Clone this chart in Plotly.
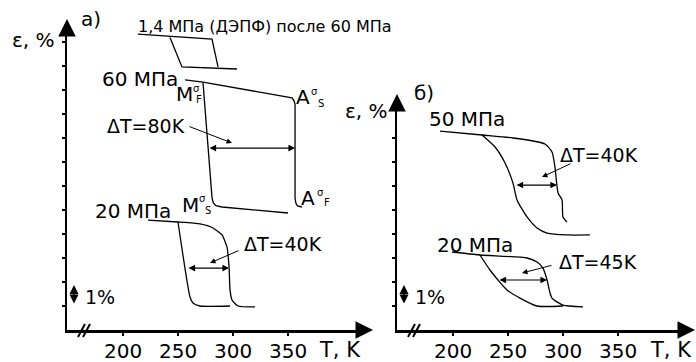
import plotly.graph_objects as go

W, H = 696, 362
FONT = "DejaVu Sans"

# ---------------- data (T in K, strain in %) ----------------
# panel a
a14_heat_T = [213.6, 280.9, 286.4]
a14_heat_e = [12.33, 12.125, 10.96]
a14_cool_T = [242.7, 253.6, 303.6]
a14_cool_e = [12.19, 10.96, 10.875]

a60_heat_T = [256.4, 272.7, 353.6, 355.5, 356.4, 356.4, 357.2, 358.6, 362.7]
a60_heat_e = [10.42, 10.33, 9.67, 9.55, 9.4, 5.5, 5.28, 5.17, 5.125]
a60_cool_T = [272.7, 277.3, 280.9, 282.0, 284.5, 290.0, 350.0]
a60_cool_e = [10.33, 7.58, 5.54, 5.3, 5.18, 5.125, 4.875]

a20_heat_T = [222.7, 250, 270, 281.8, 290, 294.5, 296.4, 297.3, 299.1, 304.5, 320]
a20_heat_e = [4.58, 4.5, 4.42, 4.25, 3.96, 3.46, 2.625, 1.67, 1.25, 1.0, 0.96]
a20_cool_T = [250, 260.9, 263.6, 270, 297.3]
a20_cool_e = [4.5, 1.375, 1.125, 1.0, 1.0]

# panel b
b50_heat_T = [188.2, 226.4, 254.5, 272.7, 283.6, 290, 292.7, 295.5, 299.1, 300, 303.6]
b50_heat_e = [8.29, 8.125, 8.0, 7.875, 7.75, 7.42, 6.79, 5.71, 5.42, 4.71, 4.5]
b50_cool_T = [226.4, 238.2, 247.3, 254.5, 258.2, 267.3, 276.4, 285.5, 303.6, 324.5]
b50_cool_e = [8.125, 7.625, 6.96, 6.125, 5.42, 4.71, 4.25, 4.04, 3.96, 3.96]

b20_heat_T = [199.1, 224.5, 267.3, 276.4, 281.8, 285.5, 288.2, 290, 294.5, 300, 318.2]
b20_heat_e = [3.25, 3.125, 3.0, 2.83, 2.58, 2.083, 1.54, 1.33, 1.17, 1.04, 0.96]
b20_cool_T = [224.5, 233.6, 240.9, 249.1, 260.9, 276.4, 300]
b20_cool_e = [3.125, 2.5, 2.083, 1.67, 1.33, 1.0, 1.0]

# hysteresis width arrows: (T_start, T_end, strain)
dT_a80 = (277.3, 356.4, 7.58)
dT_a40 = (258.2, 296.4, 2.58)
dT_b40 = (256.4, 294.5, 6.04)
dT_b45 = (240.9, 285.5, 2.083)

tick_T = [200, 250, 300, 350]
tick_text = ["200", "250", "300", "350"]
ticks_a = list(range(1, 13))
ticks_b = list(range(1, 9))

# ---------------- helpers ----------------
def PX(x):
    return x / W

def PY(y):
    return 1 - y / H

def Ta(px):
    return 200 + (px - 123) / 1.1

def Tb(px):
    return 200 + (px - 453) / 1.1

def E(py):
    return (330 - py) / 24.0

fig = go.Figure()

def curve(T, e, xa, ya, shape="linear", smooth=0.0):
    line = dict(color="black", width=1.3, shape=shape)
    if shape == "spline":
        line["smoothing"] = smooth
    fig.add_trace(go.Scatter(x=T, y=e, xaxis=xa, yaxis=ya, mode="lines",
                             line=line, showlegend=False, hoverinfo="skip"))

curve(a14_heat_T, a14_heat_e, "x", "y")
curve(a14_cool_T, a14_cool_e, "x", "y")
curve(a60_heat_T, a60_heat_e, "x", "y")
curve(a60_cool_T, a60_cool_e, "x", "y")
curve(a20_heat_T, a20_heat_e, "x", "y", "spline", 0.5)
curve(a20_cool_T, a20_cool_e, "x", "y", "spline", 0.5)
curve(b50_heat_T, b50_heat_e, "x2", "y2", "spline", 0.6)
curve(b50_cool_T, b50_cool_e, "x2", "y2", "spline", 0.6)
curve(b20_heat_T, b20_heat_e, "x2", "y2", "spline", 0.6)
curve(b20_cool_T, b20_cool_e, "x2", "y2", "spline", 0.6)

ann = []

def txt(s, x, y, size=20, xanchor="center"):
    ann.append(dict(text=s, x=PX(x), y=PY(y), xref="paper", yref="paper",
                    showarrow=False, xanchor=xanchor, yanchor="middle",
                    font=dict(size=size, family=FONT, color="black")))

def ptr(x0, y0, x1, y1):
    ann.append(dict(text="", x=PX(x1), y=PY(y1), xref="paper", yref="paper",
                    ax=x0 - x1, ay=y0 - y1, showarrow=True, arrowhead=2,
                    arrowsize=1.1, arrowwidth=1, arrowcolor="black"))

def axis_arrow(x1, y1, dx, dy):
    ann.append(dict(text="", x=PX(x1), y=PY(y1), xref="paper", yref="paper",
                    ax=dx, ay=dy, showarrow=True, arrowhead=2,
                    arrowsize=1.4, arrowwidth=2.5, arrowcolor="black"))

def darrow(spec, xr, yr):
    t0, t1, e = spec
    ann.append(dict(text="", x=t1, y=e, xref=xr, yref=yr, ax=t0, ay=e,
                    axref=xr, ayref=yr, showarrow=True, arrowside="end+start",
                    arrowhead=2, startarrowhead=2, arrowsize=1.1,
                    startarrowsize=1.1, arrowwidth=1.2, arrowcolor="black"))

def vdarrow(x, y0, y1):
    ann.append(dict(text="", x=PX(x), y=PY(y1), xref="paper", yref="paper",
                    ax=0, ay=y0 - y1, showarrow=True, arrowside="end+start",
                    arrowhead=2, startarrowhead=2, arrowsize=1.2,
                    startarrowsize=1.2, arrowwidth=1.5, arrowcolor="black"))

def ticklabels(xr):
    for t, s in zip(tick_T, tick_text):
        ann.append(dict(text=s, x=t, y=PY(351), xref=xr, yref="paper",
                        showarrow=False, xanchor="center", yanchor="middle",
                        font=dict(size=20, family=FONT, color="black")))

# ---- panel a texts ----
txt("ε, %", 33, 40, 20)
txt("а)", 91, 19, 20)
txt("1,4 МПа (ДЭПФ) после 60 МПа", 265, 27, 16)
txt("60 МПа", 140, 79, 20)
txt("M", 184, 94, 20)
txt("σ", 196, 88, 10)
txt("F", 199, 99, 10)
txt("A", 303, 97, 20)
txt("σ", 314, 91, 10)
txt("S", 321, 103, 10)
txt("ΔT=80K", 146, 126, 19)
txt("A", 308, 198, 20)
txt("σ", 320, 192, 10)
txt("F", 327, 203, 10)
txt("20 МПа", 133, 211, 20)
txt("M", 190, 205, 20)
txt("σ", 202, 198, 10)
txt("S", 208, 210, 10)
txt("ΔT=40K", 283, 244, 19)
txt("1%", 100, 297, 19)
txt("T, K", 340, 350, 21)
ptr(188, 126, 232, 143)
ptr(240, 250, 210, 263)
darrow(dT_a80, "x", "y")
darrow(dT_a40, "x", "y")
vdarrow(74, 305, 285)
ticklabels("x")

# ---- panel b texts ----
txt("ε, %", 366, 111, 20)
txt("б)", 424, 93, 20)
txt("50 МПа", 467, 119, 20)
txt("ΔT=40K", 599, 155, 19)
txt("20 МПа", 475, 245, 20)
txt("ΔT=45K", 598, 262, 19)
txt("1%", 430, 297, 19)
txt("T, K", 671, 350, 21)
ptr(572, 163, 542, 177)
ptr(553, 265, 522, 273)
darrow(dT_b40, "x2", "y2")
darrow(dT_b45, "x2", "y2")
vdarrow(404, 305, 285)
ticklabels("x2")

# axis arrows
axis_arrow(67, 19, 0, 16)
axis_arrow(373, 330, -16, 0)
axis_arrow(397, 94, 0, 16)
axis_arrow(695, 330, -16, 0)

# axis break marks
shapes = []
for x0 in (78, 83, 408, 413):
    shapes.append(dict(type="line", xref="paper", yref="paper",
                       x0=PX(x0), y0=PY(337), x1=PX(x0 + 7), y1=PY(324),
                       line=dict(color="black", width=2)))

ax_common = dict(showgrid=False, zeroline=False, showline=True, linecolor="black",
                 linewidth=2.5, ticks="outside", ticklen=3, tickwidth=1.5,
                 tickcolor="black", fixedrange=True)

fig.update_layout(
    width=W, height=H, margin=dict(l=0, r=0, t=0, b=0),
    paper_bgcolor="white", plot_bgcolor="white",
    annotations=ann, shapes=shapes,
    xaxis=dict(domain=[PX(67), PX(362)], range=[Ta(67), Ta(362)], anchor="y",
               tickvals=tick_T, showticklabels=False, **ax_common),
    yaxis=dict(domain=[PY(330), PY(30)], range=[0, E(30)], anchor="x",
               tickvals=ticks_a, showticklabels=False, **ax_common),
    xaxis2=dict(domain=[PX(397), PX(684)], range=[Tb(397), Tb(684)], anchor="y2",
                tickvals=tick_T, showticklabels=False, **ax_common),
    yaxis2=dict(domain=[PY(330), PY(106)], range=[0, E(106)], anchor="x2",
                tickvals=ticks_b, showticklabels=False, **ax_common),
)

fig.write_html("out.html", config={"displayModeBar": False, "staticPlot": True},
               post_script="document.body.style.margin='0';document.body.style.overflow='hidden';")
